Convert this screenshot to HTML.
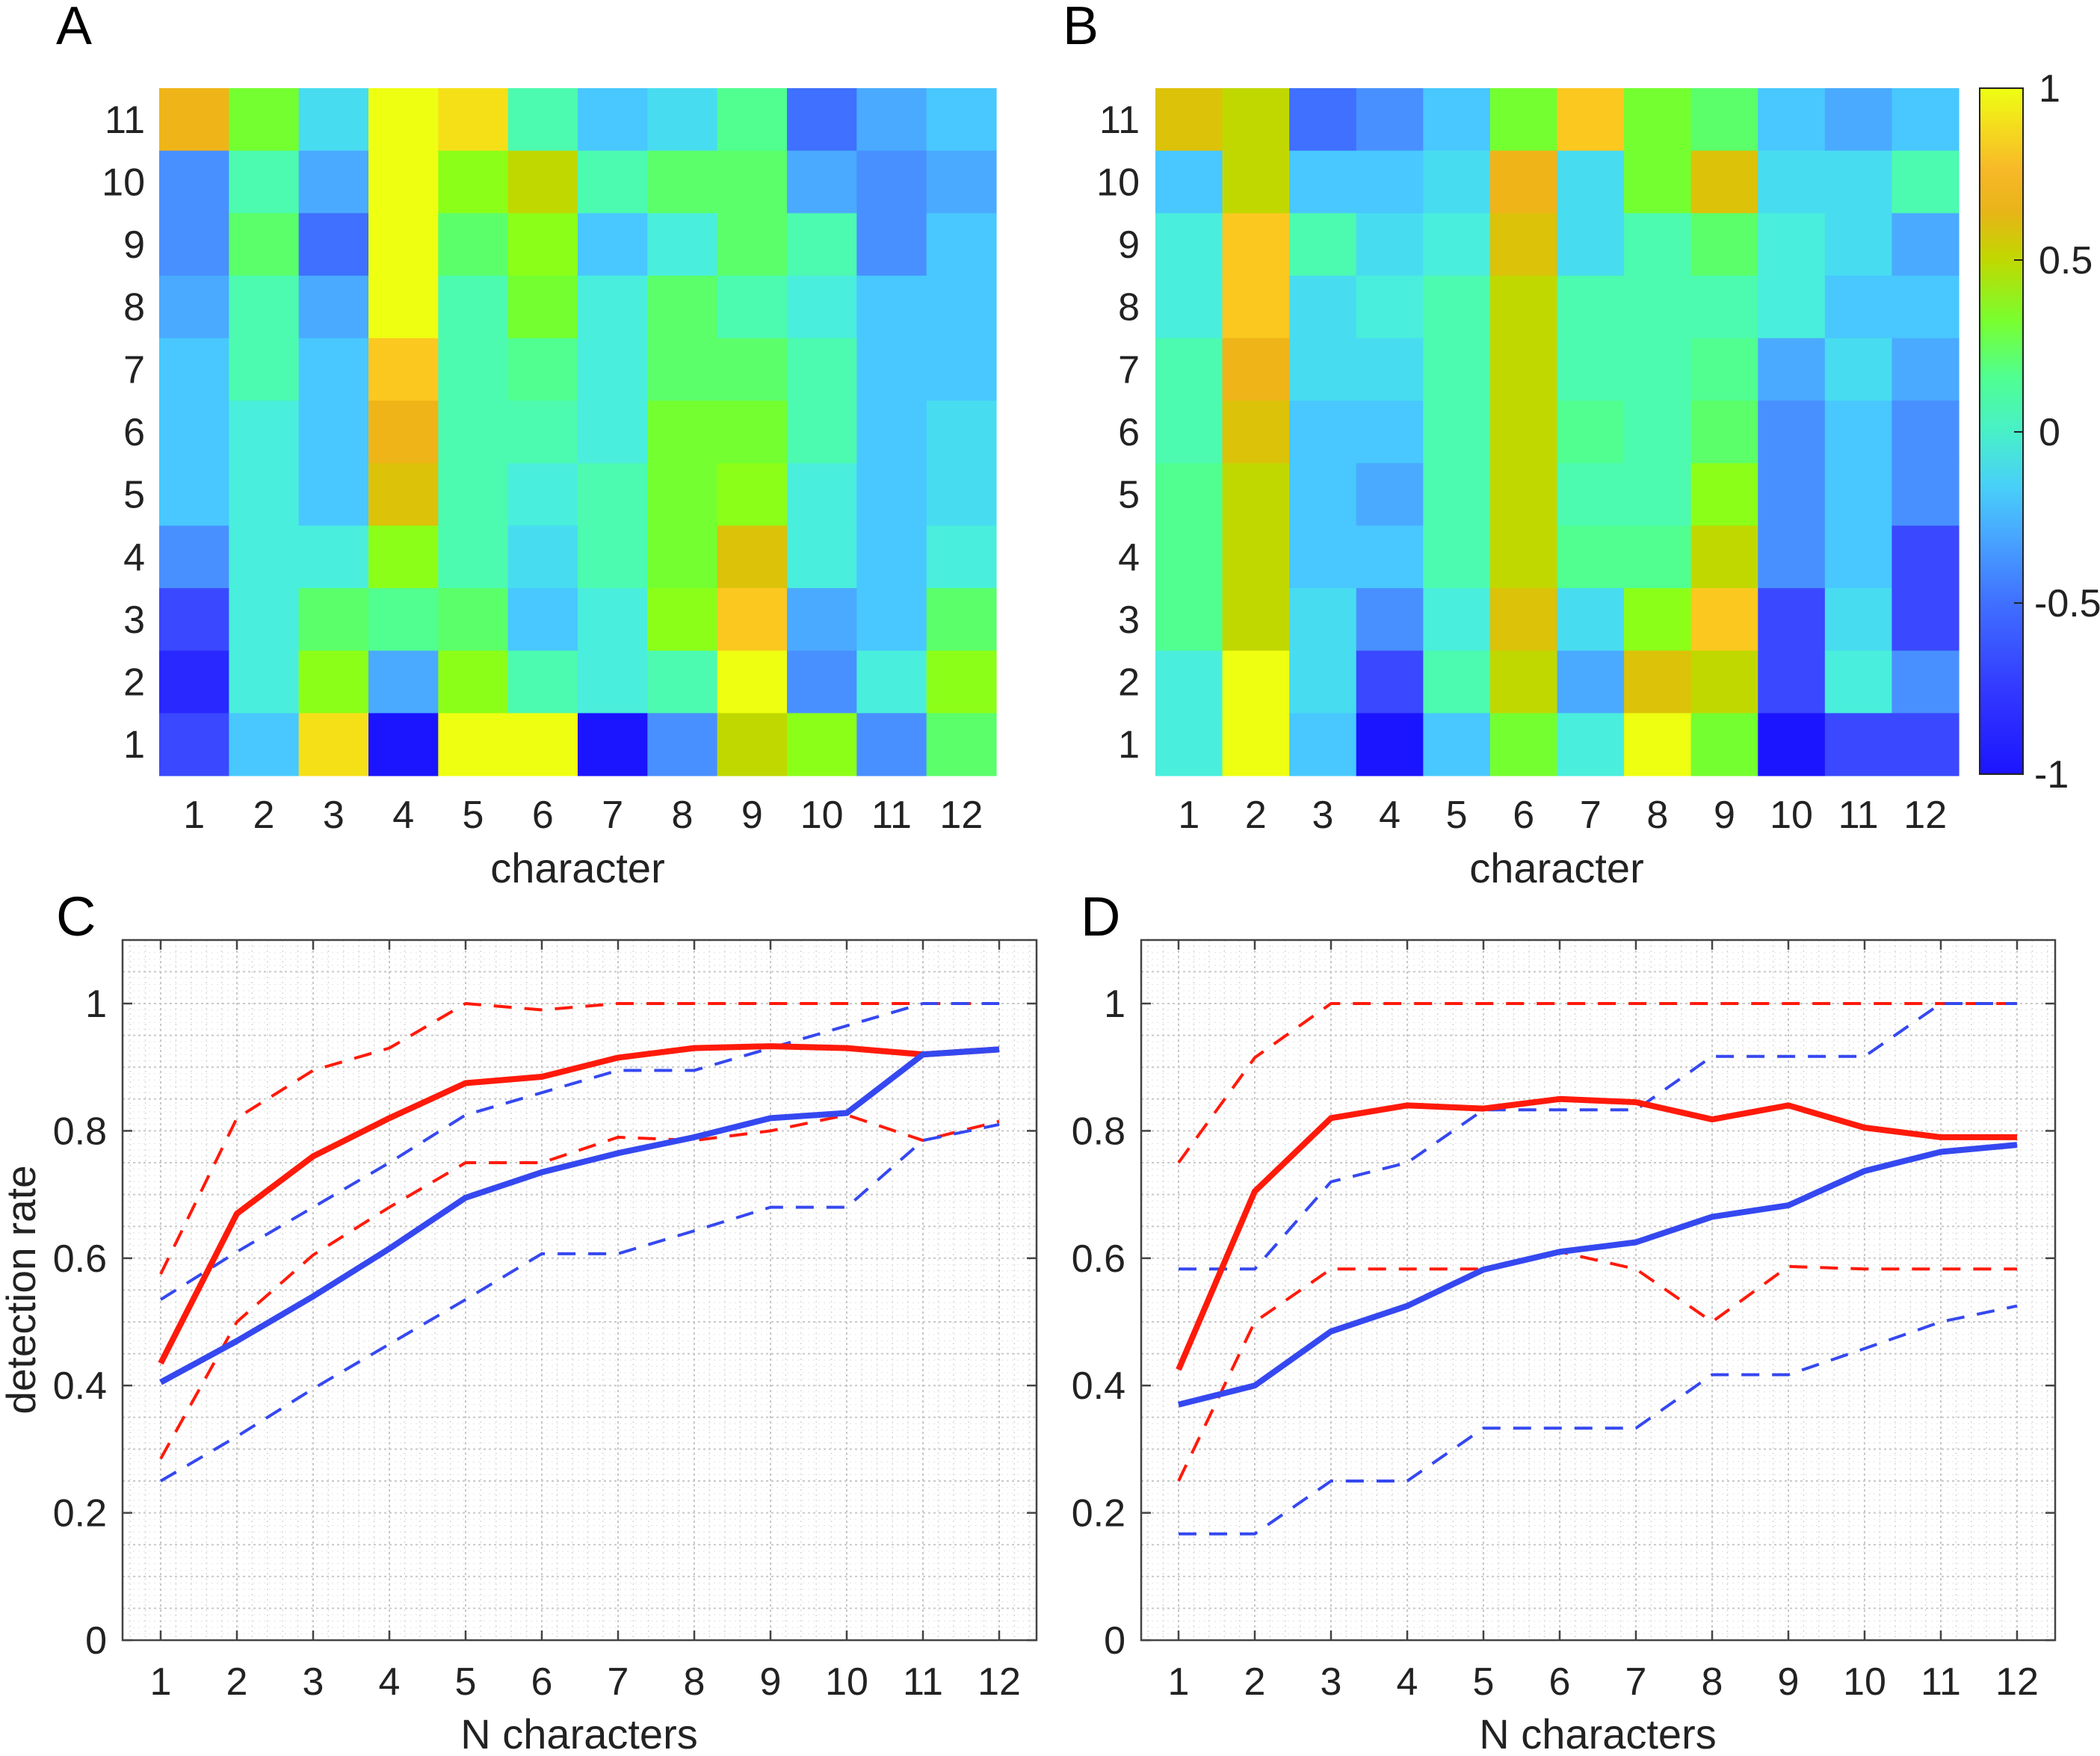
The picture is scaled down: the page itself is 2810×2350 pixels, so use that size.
<!DOCTYPE html>
<html><head><meta charset="utf-8"><style>
html,body{margin:0;padding:0;background:#fff;}
svg{display:block;}
text{font-family:"Liberation Sans",sans-serif;fill:#222;}
</style></head><body>
<svg id="s" xmlns="http://www.w3.org/2000/svg" width="2810" height="2350" viewBox="0 0 2810 2350">
<defs>
<linearGradient id="cb" x1="0" y1="1" x2="0" y2="0">
<stop offset="0" stop-color="#1c14ff"/>
<stop offset="0.12" stop-color="#3238ff"/>
<stop offset="0.25" stop-color="#4070ff"/>
<stop offset="0.35" stop-color="#48a8ff"/>
<stop offset="0.42" stop-color="#48d0f8"/>
<stop offset="0.5" stop-color="#48f0c8"/>
<stop offset="0.58" stop-color="#50ff90"/>
<stop offset="0.66" stop-color="#78ff30"/>
<stop offset="0.75" stop-color="#c0d800"/>
<stop offset="0.82" stop-color="#e8b418"/>
<stop offset="0.88" stop-color="#f8b828"/>
<stop offset="0.95" stop-color="#f4e01c"/>
<stop offset="1" stop-color="#eeff12"/>
</linearGradient>
</defs>
<g id="g"></g>
<text x="75" y="59" font-size="72" style="fill:#000">A</text>
<text x="1422" y="59" font-size="72" style="fill:#000">B</text>
<text x="75" y="1252" font-size="74" style="fill:#000">C</text>
<text x="1446" y="1252" font-size="74" style="fill:#000">D</text>
<text x="773" y="1181" font-size="56" text-anchor="middle">character</text>
<text x="2083" y="1181" font-size="56" text-anchor="middle">character</text>
<text x="775" y="2340" font-size="56" text-anchor="middle">N characters</text>
<text x="2138" y="2340" font-size="56" text-anchor="middle">N characters</text>
<text transform="translate(47,1726) rotate(-90)" font-size="55" text-anchor="middle">detection rate</text>
</svg>
<script>
var NS="http://www.w3.org/2000/svg",G=document.getElementById("g");
function el(t,a,txt){var e=document.createElementNS(NS,t);for(var k in a)e.setAttribute(k,a[k]);if(txt!==undefined)e.textContent=txt;G.appendChild(e);return e;}
var P={D:"#1a14ff",d:"#2828ff",P:"#3a48ff",p:"#3f70ff",M:"#4890ff",m:"#4aaaff",L:"#48c8ff",l:"#48dcf0",T:"#4aeedc",t:"#4cfab0",G:"#50ff90",g:"#5aff6a",H:"#74ff30",h:"#8cff18",Y:"#c0d800",y:"#dcc208",O:"#efb418",o:"#fbc820",K:"#f5e018",Z:"#eeff12"};
var A=["OHlZKtLlGpmL","MtmZhYtggmMm","MgpZghLTgtML","mtmZtHTgtTLL","LtLotGTggtLL","LTLOttTHHtLl","LTLytTtHhTLl","MTThtltHyTLT","PTgGgLThomLg","dThmhtTtZMTh","PLKDZZDMYhMg"];
var B=["yYpMLHoHgLmL","LYLLlOlHyllt","TotlTyltgTlm","TolTtYtttTLL","tOlltYttGmlm","tyLLtYGtgMLM","GYLmtYtthMLM","GYLLtYGGYMLP","GYlMTylhoPlP","TZlPtYmyYPTM","TZLDLHTZHDPP"];
function heat(M,x0,x1,y0,y1,labx){
 var cw=(x1-x0)/12,ch=(y1-y0)/11;
 for(var r=0;r<11;r++)for(var c=0;c<12;c++)el("rect",{x:x0+c*cw,y:y0+r*ch,width:cw+0.6,height:ch+0.6,fill:P[M[r][c]]});
 for(var c=0;c<12;c++)el("text",{x:x0+(c+0.5)*cw,y:1108,"font-size":52,"text-anchor":"middle"},String(c+1));
 for(var r=0;r<11;r++)el("text",{x:labx,y:y0+(r+0.5)*ch+18,"font-size":52,"text-anchor":"end"},String(11-r));
}
heat(A,213,1333,118,1038,194);
heat(B,1546,2621,118,1038,1525);
el("rect",{x:2649,y:118,width:58,height:918,fill:"url(#cb)",stroke:"#222","stroke-width":2});
[[1,118],[0.5,348],[0,578],[-0.5,807],[-1,1036]].forEach(function(v){
 el("line",{x1:2695,x2:2707,y1:v[1],y2:v[1],stroke:"#222","stroke-width":2});
 el("text",{x:(v[0]<0?2722:2728),y:v[1]+18,"font-size":52},String(v[0]));
});
function plot(x0,x1,xs,ser,ylab){
 var y0=1258,y1=2195,yz=2195,yu=852;
 function X(i){return xs+(i-1)*102;} function Y(v){return yz-v*yu;}
 for(var v=0;v<=1.1001;v+=0.01){el("line",{x1:x0,x2:x1,y1:Y(v),y2:Y(v),stroke:"#e4e4e4","stroke-width":1,"stroke-dasharray":"2 5"});}
 for(var i=0.6;i<=12.6;i+=0.2){var xx=X(i);if(xx>x0&&xx<x1)el("line",{x1:xx,x2:xx,y1:y0,y2:y1,stroke:"#d8d8d8","stroke-width":1.5,"stroke-dasharray":"2 5"});}
 for(var v=0;v<=1.1001;v+=0.05){el("line",{x1:x0,x2:x1,y1:Y(v),y2:Y(v),stroke:"#c8c8c8","stroke-width":2,"stroke-dasharray":"3 4"});}
 for(var i=1;i<=12;i++){el("line",{x1:X(i),x2:X(i),y1:y0,y2:y1,stroke:"#c8c8c8","stroke-width":2,"stroke-dasharray":"3 4"});}
 el("rect",{x:x0,y:y0,width:x1-x0,height:y1-y0,fill:"none",stroke:"#444","stroke-width":2.5});
 for(var i=1;i<=12;i++){el("line",{x1:X(i),x2:X(i),y1:y1,y2:y1-13,stroke:"#444","stroke-width":2.5});el("line",{x1:X(i),x2:X(i),y1:y0,y2:y0+13,stroke:"#444","stroke-width":2.5});
  el("text",{x:X(i),y:2268,"font-size":52,"text-anchor":"middle"},String(i));}
 for(var k=0;k<=5;k++){var v=k*0.2;el("line",{x1:x0,x2:x0+13,y1:Y(v),y2:Y(v),stroke:"#444","stroke-width":2.5});el("line",{x1:x1,x2:x1-13,y1:Y(v),y2:Y(v),stroke:"#444","stroke-width":2.5});
  el("text",{x:ylab,y:Y(v)+18,"font-size":52,"text-anchor":"end"},k==0?"0":k==5?"1":v.toFixed(1));}
 ser.forEach(function(s){var pts=s.d.map(function(v,i){return X(i+1)+","+Y(v)}).join(" ");
  var a={points:pts,fill:"none",stroke:s.c,"stroke-width":s.w,"stroke-linejoin":"round"};if(s.dash)a["stroke-dasharray"]="24 17";el("polyline",a);});
}
var R="#ff1a0a",Bl="#3548f0";
plot(164,1387,215,[
 {c:R,w:4,dash:1,d:[0.575,0.82,0.895,0.93,1,0.99,1,1,1,1,1,1]},
 {c:R,w:4,dash:1,d:[0.285,0.5,0.605,0.68,0.75,0.75,0.79,0.785,0.80,0.825,0.785,0.815]},
 {c:Bl,w:4,dash:1,d:[0.535,0.61,0.68,0.75,0.825,0.86,0.895,0.895,0.93,0.965,1,1]},
 {c:Bl,w:4,dash:1,d:[0.25,0.32,0.395,0.465,0.535,0.607,0.607,0.643,0.68,0.68,0.785,0.81]},
 {c:R,w:8,d:[0.435,0.67,0.76,0.82,0.875,0.885,0.915,0.93,0.933,0.93,0.92,0.928]},
 {c:Bl,w:8,d:[0.405,0.47,0.54,0.615,0.695,0.735,0.765,0.79,0.82,0.828,0.92,0.928]}
],143);
plot(1527,2750,1577,[
 {c:R,w:4,dash:1,d:[0.75,0.915,1,1,1,1,1,1,1,1,1,1]},
 {c:R,w:4,dash:1,d:[0.25,0.5,0.583,0.583,0.583,0.61,0.583,0.5,0.587,0.583,0.583,0.583]},
 {c:Bl,w:4,dash:1,d:[0.583,0.583,0.72,0.75,0.833,0.833,0.833,0.917,0.917,0.917,1,1]},
 {c:Bl,w:4,dash:1,d:[0.167,0.167,0.25,0.25,0.333,0.333,0.333,0.417,0.417,0.458,0.5,0.525]},
 {c:R,w:8,d:[0.425,0.705,0.82,0.84,0.835,0.85,0.845,0.818,0.84,0.805,0.79,0.79]},
 {c:Bl,w:8,d:[0.37,0.4,0.485,0.525,0.582,0.61,0.625,0.665,0.683,0.737,0.767,0.778]}
],1506);
</script>
</body></html>
